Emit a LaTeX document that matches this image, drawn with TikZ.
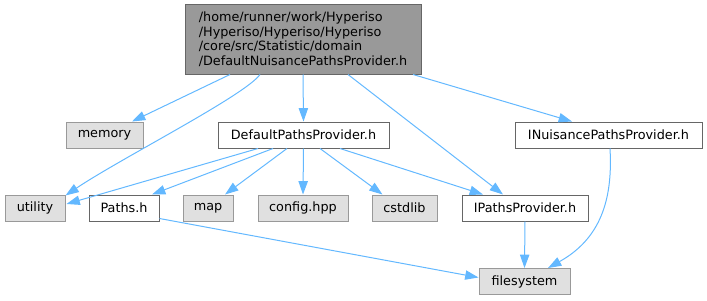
\documentclass[tikz,border=0pt]{standalone}
\usepackage{fontspec}
\setmainfont{DejaVu Sans}
\usetikzlibrary{arrows.meta, calc}

\definecolor{edgeblue}{HTML}{63B8FF}
\definecolor{rootfill}{HTML}{999999}
\definecolor{extfill}{HTML}{E0E0E0}
\definecolor{extline}{HTML}{999999}
\definecolor{fileline}{HTML}{666666}

\begin{document}
\begin{tikzpicture}[
    x=0.75pt, y=-0.75pt,
    font=\fontsize{9.6}{10.9}\selectfont,
    filebox/.style={rectangle, draw=fileline, fill=white, line width=0.75pt, minimum height=19.5pt, inner sep=0pt},
    extbox/.style={filebox, draw=extline, fill=extfill},
    rootbox/.style={filebox, fill=rootfill, align=left, minimum width=177pt, minimum height=52.5pt},
    arrow/.style={-{Triangle[length=10pt,width=7pt]}, draw=edgeblue, line width=0.75pt}
  ]
    \useasboundingbox (0,0) rectangle (707,300);

    % Root file
    \node[rootbox] (root) at (303,39) {/home/runner/work/Hyperiso\\/Hyperiso/Hyperiso/Hyperiso\\/core/src/Statistic/domain\\/DefaultNuisancePathsProvider.h};

    % Second row
    \node[extbox, minimum width=57.75pt] (memory) at (104.5,135) {memory};
    \node[filebox, minimum width=128.25pt] (dpp) at (303.5,135) {DefaultPathsProvider.h};
    \node[filebox, minimum width=140.25pt] (inpp) at (608.5,135) {INuisancePathsProvider.h};

    % Third row
    \node[extbox, minimum width=45pt] (utility) at (35,208) {utility};
    \node[filebox, minimum width=52.5pt] (paths) at (124,208) {Paths.h};
    \node[extbox, minimum width=37.5pt] (map) at (208,208) {map};
    \node[extbox, minimum width=67.5pt] (config) at (303,208) {config.hpp};
    \node[extbox, minimum width=48.75pt] (cstdlib) at (404.5,208) {cstdlib};
    \node[filebox, minimum width=94.5pt] (ipp) at (525,208) {IPathsProvider.h};

    % Bottom
    \node[extbox, minimum width=68.25pt] (filesystem) at (524.5,281.5) {filesystem};

    % Edges from root
    \draw[arrow] ($(root.south)+(-73,0)$) -- ($(memory.north)+(27.5,0)$);
    \draw[arrow] ($(root.south)+(-43,0)$) .. controls ($(root.south)+(-58,21)$) and ($(utility.north east)+(55,-36)$) .. ($(utility.north east)+(0,1)$);
    \draw[arrow] (root.south) -- (dpp.north);
    \draw[arrow] ($(root.south)+(45,0)$) -- ($(ipp.north)+(-22,0)$);
    \draw[arrow] ($(root.south)+(110,0)$) -- ($(inpp.north)+(-36.5,0)$);

    % Edges from DefaultPathsProvider.h
    \draw[arrow] ($(dpp.south)+(-45.5,0)$) -- ($(utility.east)+(1,-4)$);
    \draw[arrow] ($(dpp.south)+(-30.5,0)$) -- ($(paths.north)+(28,0)$);
    \draw[arrow] ($(dpp.south)+(-16.5,0)$) -- ($(map.north)+(17,0)$);
    \draw[arrow] (dpp.south) -- (config.north);
    \draw[arrow] ($(dpp.south)+(16.5,0)$) -- ($(cstdlib.north)+(-22,0)$);
    \draw[arrow] ($(dpp.south)+(36.5,0)$) -- ($(ipp.north)+(-42,0)$);

    % Edges to filesystem
    \draw[arrow] ($(paths.south east)+(0,-3)$) -- ($(filesystem.west)+(0,-4)$);
    \draw[arrow] (ipp.south) -- (filesystem.north);
    \draw[arrow] ($(inpp.south)+(1.5,0)$) .. controls ($(inpp.south)+(4.5,52)$) and ($(filesystem.north)+(75.5,-29)$) .. ($(filesystem.north)+(23.5,0)$);
\end{tikzpicture}
\end{document}
